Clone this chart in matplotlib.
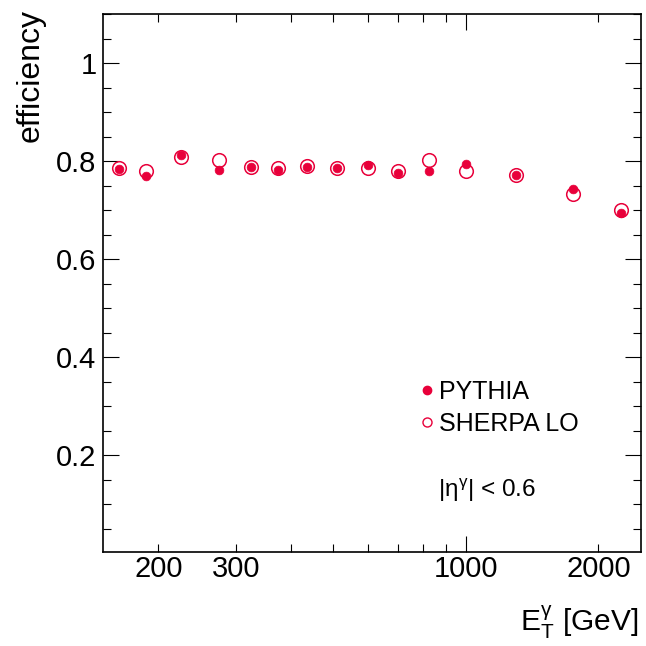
import matplotlib
matplotlib.use("Agg")
import matplotlib.pyplot as plt
from matplotlib.ticker import FixedLocator, MultipleLocator, NullFormatter, FixedFormatter
from matplotlib.lines import Line2D

plt.rcParams['font.family'] = ['Liberation Sans', 'DejaVu Sans']
plt.rcParams['mathtext.fontset'] = 'custom'
plt.rcParams['mathtext.rm'] = 'Liberation Sans'
plt.rcParams['mathtext.it'] = 'Liberation Sans:italic'
plt.rcParams['mathtext.default'] = 'regular'

# Data
et_centers = [162.5, 187.5, 225, 275, 325, 375, 435, 510, 600, 700, 825, 1000, 1300, 1750, 2250]
pythia_eff = [0.784, 0.769, 0.812, 0.783, 0.789, 0.782, 0.788, 0.786, 0.792, 0.775, 0.779, 0.794, 0.771, 0.743, 0.695]
sherpa_eff = [0.786, 0.780, 0.808, 0.803, 0.788, 0.787, 0.790, 0.786, 0.786, 0.780, 0.803, 0.780, 0.771, 0.733, 0.700]

x_major = [1000]
x_minor = [200, 300, 400, 500, 600, 700, 800, 900, 2000]
x_labels = ['200', '300', '1000', '2000']
x_label_pos = [200, 300, 1000, 2000]

red = '#e8003a'

fig = plt.figure(figsize=(6.46, 6.46), dpi=100)
ax = fig.add_axes([0.16, 0.146, 0.8323, 0.832])

ax.plot(et_centers, sherpa_eff, linestyle='none', marker='o', ms=9.8,
        mfc='none', mec=red, mew=1.1, label='SHERPA LO', zorder=2)
ax.plot(et_centers, pythia_eff, linestyle='none', marker='o', ms=6.3,
        mfc=red, mec=red, mew=0.5, label='PYTHIA', zorder=3)

ax.set_xscale('log')
ax.set_xlim(150, 2500)
ax.set_ylim(0.003, 1.1)

ax.xaxis.set_major_locator(FixedLocator(x_major))
ax.xaxis.set_minor_locator(FixedLocator(x_minor))
ax.xaxis.set_major_formatter(NullFormatter())
ax.xaxis.set_minor_formatter(NullFormatter())
for xv, lab in zip(x_label_pos, x_labels):
    ax.text(xv, -0.006, lab, transform=ax.get_xaxis_transform(), ha='center', va='top', fontsize=21)

ax.yaxis.set_major_locator(FixedLocator([0.2, 0.4, 0.6, 0.8, 1.0]))
ax.yaxis.set_major_formatter(FixedFormatter(['0.2', '0.4', '0.6', '0.8', '1']))
ax.yaxis.set_minor_locator(MultipleLocator(0.05))

ax.tick_params(which='both', direction='in', top=True, right=True, width=0.8, color='black')
ax.tick_params(which='major', length=11.5, labelsize=21, pad=5)
ax.tick_params(which='minor', length=5.8)
for s in ax.spines.values():
    s.set_linewidth(1.2)

ax.set_ylabel('efficiency', fontsize=23, loc='top')
ax.yaxis.set_label_coords(-0.108, 1.01)
ax.set_xlabel(r'E$_{T}^{\gamma}$ [GeV]', fontsize=21.5, loc='right')
ax.xaxis.set_label_coords(0.994, -0.097)

handles = [Line2D([], [], linestyle='none', marker='o', ms=6.0, mfc=red, mec=red),
           Line2D([], [], linestyle='none', marker='o', ms=6.5, mfc='none', mec=red, mew=1.0)]
ax.legend(handles, ['PYTHIA', 'SHERPA LO'], loc='upper left', bbox_to_anchor=(0.567, 0.338),
          frameon=False, fontsize=18, handlelength=0.7, handletextpad=0.15, labelspacing=0.3,
          borderaxespad=0)

ax.text(0.622, 0.1135, r'|$\eta^{\gamma}$| < 0.6', transform=ax.transAxes, fontsize=17.5,
        ha='left', va='center')

fig.savefig('out.png', dpi=100)
